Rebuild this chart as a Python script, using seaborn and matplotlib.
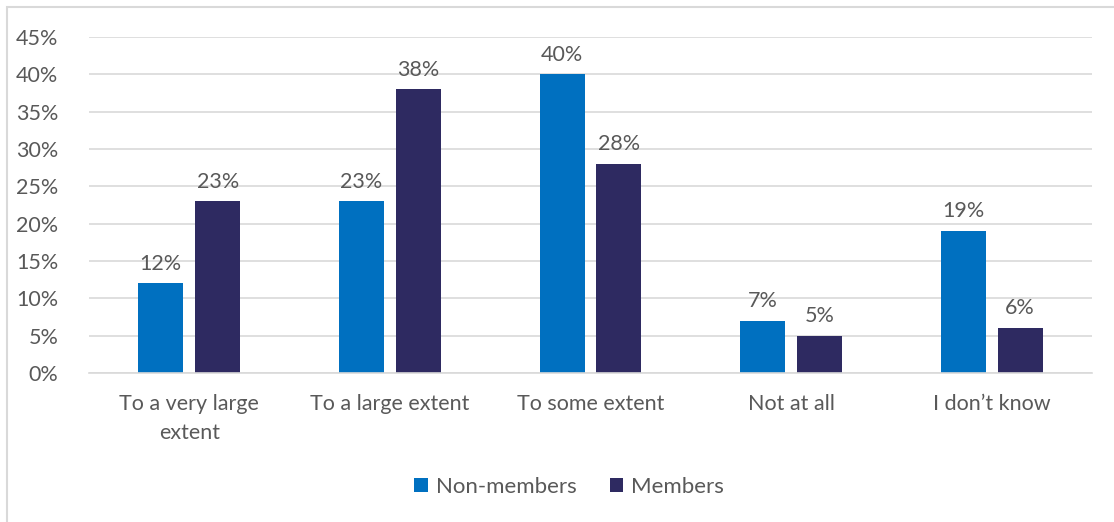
import matplotlib
matplotlib.use("Agg")
import matplotlib.pyplot as plt
import matplotlib.patches as mpatches
from matplotlib.ticker import FuncFormatter, MultipleLocator
import seaborn as sns
import pandas as pd

categories = ["To a very large\nextent", "To a large extent", "To some extent", "Not at all", "I don\u2019t know"]
non_members = [12, 23, 40, 7, 19]
members = [23, 38, 28, 5, 6]
series_names = ["Non-members", "Members"]
colors = ["#0070C0", "#2E2A61"]

df = pd.DataFrame({
    "category": categories * 2,
    "group": [series_names[0]] * len(categories) + [series_names[1]] * len(categories),
    "value": non_members + members,
})

sns.set_theme(style="white")
plt.rcParams["font.family"] = ["Lato", "DejaVu Sans"]
text_color = "#595959"
fs = 15.5

fig = plt.figure(figsize=(11.14, 5.22), dpi=100)
ax = fig.add_axes([89 / 1114, 1 - 373 / 522, (1092 - 89) / 1114, (373 - 37) / 522])

sns.barplot(data=df, x="category", y="value", hue="group", palette=colors,
            width=0.568, gap=0.21, ax=ax, legend=True, saturation=1, linewidth=0)

ax.set_ylim(0, 45)
ax.yaxis.set_major_locator(MultipleLocator(5))
ax.yaxis.set_major_formatter(FuncFormatter(lambda v, _: f"{v:.0f}%"))
ax.grid(axis="y", color="#D9D9D9", linewidth=1.2)
ax.set_axisbelow(True)
for s in ["top", "right", "left"]:
    ax.spines[s].set_visible(False)
ax.spines["bottom"].set_color("#D9D9D9")
ax.spines["bottom"].set_linewidth(1.2)
ax.set_xlabel("")
ax.set_ylabel("")
ax.tick_params(axis="both", length=0, labelsize=fs, colors=text_color)
ax.tick_params(axis="y", pad=22)
ax.tick_params(axis="x", pad=15)
for lbl in ax.get_xticklabels():
    lbl.set_linespacing(1.6)
    lbl.set_verticalalignment("top")

for container in ax.containers:
    ax.bar_label(container, fmt="{:.0f}%", padding=7, fontsize=fs, color=text_color)

handles, labels = ax.get_legend_handles_labels()
ax.legend_.remove()
fig.legend(handles, labels, loc="center", bbox_to_anchor=(569 / 1114, 1 - 487 / 522),
           ncol=2, frameon=False, fontsize=16, labelcolor=text_color,
           handlelength=0.6, handleheight=0.6, handletextpad=0.35, columnspacing=1.5)

# outer chart border
fig.add_artist(mpatches.Rectangle((7 / 1114, -0.1), 1.2, 1.1 - 7 / 522,
                                  transform=fig.transFigure, fill=False,
                                  edgecolor="#D9D9D9", linewidth=1.5))

fig.savefig("out.png", dpi=100)
